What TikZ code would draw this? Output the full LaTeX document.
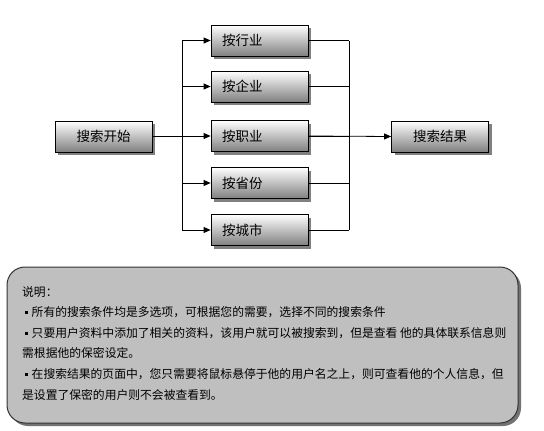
\documentclass[tikz,border=0pt]{standalone}
\usepackage{fontspec}
\setmainfont{Noto Sans CJK SC}
\usepackage{xcolor}
\usetikzlibrary{arrows.meta, shadows}

\newcommand{\notedot}{\hspace{3pt}\raisebox{2.5pt}{\rule{3pt}{3pt}}\hspace{3.5pt}}

\begin{document}
\begin{tikzpicture}[x=1pt, y=-1pt,
  box/.style={draw=black, line width=0.8pt, top color=white, bottom color=black!50,
    minimum width=97pt, minimum height=31pt, inner sep=0pt,
    drop shadow={shadow xshift=3pt, shadow yshift=-3pt, fill=black!50, opacity=1},
    font=\fontsize{13.5}{14}\selectfont},
  choice/.style={box, text width=75pt, align=left, inner xsep=11pt},
  link/.style={line width=0.8pt},
  tip/.style={link, -{Triangle[length=7pt, width=6pt]}},
  note/.style={draw=black!80, line width=1pt, fill=black!25, rounded corners=18pt,
    minimum width=511pt, minimum height=156pt,
    drop shadow={shadow xshift=3pt, shadow yshift=-3pt, fill=black!55, opacity=1}}
]
  \useasboundingbox (0,0) rectangle (544,431);

  % Search start and result
  \node[box] (start) at (103.5, 136.5) {搜索开始};
  \node[box] (result) at (440, 136.5) {搜索结果};

  % Search options
  \node[choice] (trade) at (259.5, 40.5) {按行业};
  \node[choice] (firm)  at (259.5, 86.5) {按企业};
  \node[choice] (job)   at (259.5, 136)  {按职业};
  \node[choice] (prov)  at (259.5, 183)  {按省份};
  \node[choice] (city)  at (259.5, 230)  {按城市};

  % Buses
  \coordinate (split) at (182, 136.5);
  \coordinate (merge) at (349, 136.5);

  \draw[link] (start) -- (split);
  \draw[link] (split |- trade.west) -- (split |- city.west);
  \draw[link] (merge |- trade.east) -- (merge |- city.east);
  \foreach \n in {trade, firm, job, prov, city} {
    \draw[tip] (split |- \n.west) -- (\n.west);
    \draw[link] (\n.east) -- (merge |- \n.east);
  }
  \draw[tip] (job.east) -- (result.west);

  % Notes
  \node[note] (note) at (262.5, 345) {};
  \node[anchor=north west, align=left, inner sep=0pt,
    font=\fontsize{11.8}{20.6}\selectfont] (notetext) at (22, 286)
    {说明：\\
     \notedot 所有的搜索条件均是多选项，可根据您的需要，选择不同的搜索条件\\
     \notedot 只要用户资料中添加了相关的资料，该用户就可以被搜索到，但是查看 他的具体联系信息则\\
     需根据他的保密设定。\\
     \notedot 在搜索结果的页面中，您只需要将鼠标悬停于他的用户名之上，则可查看他的个人信息，但\\
     是设置了保密的用户则不会被查看到。};
\end{tikzpicture}
\end{document}
